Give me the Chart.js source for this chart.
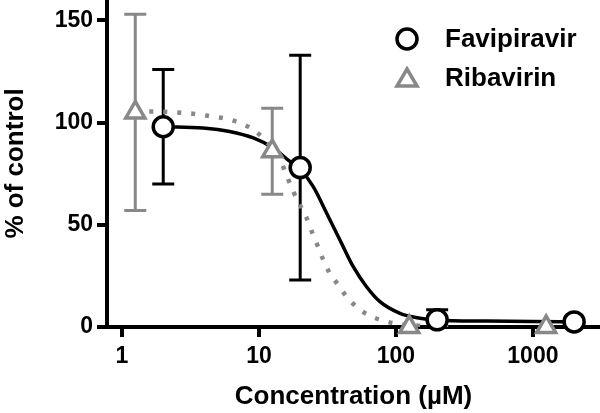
<!DOCTYPE html>
<html>
<head>
<meta charset="utf-8">
<script src="https://cdn.jsdelivr.net/npm/chart.js@4"></script>
<style>html,body{margin:0;padding:0;background:#fff}</style>
</head>
<body>
<div style="width:600px;height:413px"><canvas id="c"></canvas></div>
<script>
// measured points
const favConc = [2, 20, 200, 2000];
const favMean = [98, 78, 3.5, 2.5];
const favErr  = [28, 55, 5, 0];

const ribConc = [1.25, 12.5, 125, 1250];
const ribMean = [105, 86, 0, 0];
const ribErr  = [48, 21, 0, 0];

// fitted curves
const favCurveX = [2, 3.9, 6.1, 9.1, 12.7, 16.8, 20, 24.9, 31.2, 39, 48.8, 61, 76.4, 107, 150, 199, 450, 1000, 2000];
const favCurveY = [98, 97.4, 95.7, 92.5, 87.6, 81, 77, 68.7, 55.7, 42.6, 29.5, 19.7, 12.4, 6.7, 4.3, 3.3, 2.9, 2.7, 2.5];

const ribCurveX = [1.25, 1.65, 2.18, 3.5, 4.5, 5.8, 7.3, 9.1, 10.7, 12.7, 14.6, 17.8, 19.9, 22.3, 24.3, 27, 29.5, 32.9, 37.9, 43.6, 51.5, 62.8, 80.8, 104, 150, 250];
const ribCurveY = [105.5, 105.5, 105.2, 104.2, 103, 101.9, 99.8, 96.5, 92.5, 86.7, 80.2, 66.3, 59.8, 53.3, 46.7, 39.3, 32.8, 26.3, 20.6, 14.8, 9.9, 5.9, 3.1, 1.5, 0.6, 0.2];

const xTicks = [1, 10, 100, 1000];
const yTicks = [0, 50, 100, 150];

const GRAY = '#888888';
const FAMILY = '"Liberation Sans", Arial, sans-serif';
const TICK_FONT = {family: FAMILY, size: 23, weight: 'bold'};
const TITLE_FONT = {family: FAMILY, size: 26, weight: 'bold'};

const pts = (xs, ys) => xs.map((x, i) => ({x, y: ys[i]}));

// drop the label overhang padding so the axes run to the canvas edge
const noOverhang = s => {
  s.paddingTop = s.paddingBottom = s.paddingLeft = s.paddingRight = 0;
};

const errorBars = {
  id: 'errorBars',
  beforeDatasetsDraw(chart) {
    const {ctx, scales: {x, y}} = chart;
    chart.data.datasets.forEach(ds => {
      if (!ds.err) return;
      ctx.save();
      ctx.strokeStyle = ds.borderColor;
      ctx.lineWidth = 3;
      ds.data.forEach((p, i) => {
        const e = ds.err[i];
        if (!e) return;
        const px = x.getPixelForValue(p.x);
        const top = y.getPixelForValue(p.y + e);
        const bot = y.getPixelForValue(Math.max(p.y - e, 0));
        ctx.beginPath();
        ctx.moveTo(px, top); ctx.lineTo(px, bot);
        ctx.moveTo(px - 11, top); ctx.lineTo(px + 11, top);
        if (p.y - e > 0) { ctx.moveTo(px - 11, bot); ctx.lineTo(px + 11, bot); }
        ctx.stroke();
      });
      ctx.restore();
    });
  }
};

const legendBox = {
  id: 'legendBox',
  afterDraw(chart) {
    const {ctx} = chart;
    ctx.save();
    ctx.lineWidth = 3.5;
    ctx.fillStyle = '#fff';
    ctx.strokeStyle = '#000';
    ctx.beginPath(); ctx.arc(407, 39, 10, 0, Math.PI * 2); ctx.fill(); ctx.stroke();
    ctx.strokeStyle = GRAY;
    ctx.beginPath();
    ctx.moveTo(407, 69); ctx.lineTo(417, 86); ctx.lineTo(397, 86); ctx.closePath();
    ctx.fill(); ctx.stroke();
    ctx.fillStyle = '#000';
    ctx.font = 'bold 26px ' + FAMILY;
    ctx.textBaseline = 'middle';
    ctx.fillText('Favipiravir', 445, 40);
    ctx.fillText('Ribavirin', 445, 79);
    ctx.restore();
  }
};

new Chart(document.getElementById('c'), {
  type: 'line',
  data: {
    datasets: [
      {label: 'Favipiravir', data: pts(favConc, favMean), err: favErr, showLine: false,
       pointStyle: 'circle', pointRadius: 10, pointBorderWidth: 3.5,
       borderColor: '#000', pointBackgroundColor: '#fff', clip: false},
      {label: 'Ribavirin', data: pts(ribConc, ribMean), err: ribErr, showLine: false,
       pointStyle: 'triangle', pointRadius: 11, pointBorderWidth: 3.5,
       borderColor: GRAY, pointBackgroundColor: '#fff', clip: false},
      {data: pts(ribCurveX, ribCurveY), borderColor: GRAY, borderWidth: 4.5,
       borderDash: [4, 10], pointRadius: 0, cubicInterpolationMode: 'monotone'},
      {data: pts(favCurveX, favCurveY), borderColor: '#000', borderWidth: 3.5,
       pointRadius: 0, cubicInterpolationMode: 'monotone'}
    ]
  },
  options: {
    responsive: true,
    maintainAspectRatio: false,
    animation: false,
    layout: {padding: 0, autoPadding: false},
    plugins: {legend: {display: false}, tooltip: {enabled: false}},
    scales: {
      x: {
        type: 'logarithmic', min: 0.777, max: 3090,
        border: {color: '#000', width: 4},
        grid: {drawOnChartArea: false, color: '#000', lineWidth: 4, tickLength: 10},
        ticks: {color: '#000', font: TICK_FONT, padding: 6, maxRotation: 0, callback: v => String(v)},
        afterBuildTicks: s => { s.ticks = xTicks.map(v => ({value: v})); },
        afterFit: s => { s.height = 86; noOverhang(s); },
        title: {display: true, text: 'Concentration (µM)', color: '#000',
                font: TITLE_FONT, padding: {top: 0, bottom: 1}}
      },
      y: {
        min: 0, max: 160,
        border: {color: '#000', width: 4},
        grid: {drawOnChartArea: false, color: '#000', lineWidth: 4, tickLength: 10},
        ticks: {color: '#000', font: TICK_FONT, padding: 4},
        afterBuildTicks: s => { s.ticks = yTicks.map(v => ({value: v})); },
        afterFit: s => { s.width = 107; noOverhang(s); },
        title: {display: true, text: '% of control', color: '#000',
                font: TITLE_FONT, padding: {top: 0, bottom: 0}}
      }
    }
  },
  plugins: [errorBars, legendBox]
});
</script>
</body>
</html>
